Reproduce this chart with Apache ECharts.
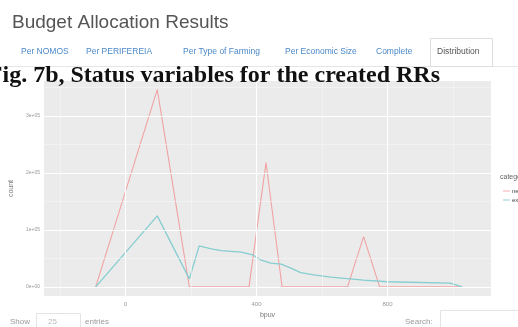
<!DOCTYPE html>
<html>
<head>
<meta charset="utf-8">
<script src="https://cdn.jsdelivr.net/npm/echarts@6/dist/echarts.min.js"></script>
<style>
html,body{margin:0;padding:0;background:#fff;}
#c{width:518px;height:327px;}
</style>
</head>
<body>
<div id="c"></div>
<script>
// ---- data ----
var seriesNames = ['new', 'existing'];
var redX = [-91, 97, 195, 377, 429, 478, 678, 727, 776, 1028];
var redY = [0, 346000, 0, 0, 218000, 0, 0, 88000, 0, 0];
var blueX = [-91, 97, 195, 225, 262, 292, 353, 389, 414, 444, 475, 505, 535, 575, 627, 727, 800, 992, 1028];
var blueY = [0, 124500, 14000, 72000, 66500, 63500, 61000, 56000, 47000, 41500, 40000, 33000, 25000, 21000, 17000, 12000, 9000, 6500, 0];
var xTicks = [0, 400, 800];
var xMinor = [-200, 200, 600, 1000];
var yTicks = [0, 100000, 200000, 300000];
var yTickLabels = ['0e+00', '1e+05', '2e+05', '3e+05'];
var yMinor = [50000, 150000, 250000, 350000];
var tabs = ['Per NOMOS', 'Per PERIFEREIA', 'Per Type of Farming', 'Per Economic Size', 'Complete', 'Distribution'];

function pairs(xs, ys) { return xs.map(function (x, i) { return [x, ys[i]]; }); }

var chart = echarts.init(document.getElementById('c'), null, {renderer: 'canvas'});

var gridMarks = [];
xTicks.forEach(function (v) { gridMarks.push({xAxis: v, lineStyle: {type: 'solid', width: 1.1, color: '#ffffff'}}); });
xMinor.forEach(function (v) { gridMarks.push({xAxis: v, lineStyle: {type: 'solid', width: 0.6, color: '#f6f6f6'}}); });
yTicks.forEach(function (v) { gridMarks.push({yAxis: v, lineStyle: {type: 'solid', width: 1.1, color: '#ffffff'}}); });
yMinor.forEach(function (v) { gridMarks.push({yAxis: v, lineStyle: {type: 'solid', width: 0.6, color: '#f6f6f6'}}); });

var tabX = [21, 86, 183, 285, 376, 437];
var smallFont = '8.5px "Liberation Sans", Arial, sans-serif';

var graphics = [
  {type: 'text', left: 12, top: 13, z: 10, style: {text: 'Budget Allocation Results', font: '19px "Liberation Sans", Arial, sans-serif', fill: '#555'}},
  {type: 'line', shape: {x1: 0, y1: 66.5, x2: 518, y2: 66.5}, style: {stroke: '#e6e6e6', lineWidth: 1}, z: 9},
  {type: 'rect', shape: {x: 430.5, y: 38.5, width: 62, height: 28}, style: {fill: '#fff', stroke: '#dddddd', lineWidth: 1}, z: 10},
  {type: 'text', left: 500, top: 174, z: 10, style: {text: 'category', font: '7px "Liberation Sans", Arial, sans-serif', fill: '#666'}},
  {type: 'text', x: 10, y: 322, z: 10, style: {text: 'Show', font: '8px "Liberation Sans", Arial, sans-serif', fill: '#999', verticalAlign: 'middle'}},
  {type: 'rect', shape: {x: 36.5, y: 313.5, width: 44, height: 18}, style: {fill: '#fff', stroke: '#e4e4e4', lineWidth: 1}, z: 10},
  {type: 'text', x: 48, y: 322, z: 11, style: {text: '25', font: '8px "Liberation Sans", Arial, sans-serif', fill: '#bbb', verticalAlign: 'middle'}},
  {type: 'text', x: 85, y: 322, z: 10, style: {text: 'entries', font: '8px "Liberation Sans", Arial, sans-serif', fill: '#999', verticalAlign: 'middle'}},
  {type: 'text', x: 405, y: 322, z: 10, style: {text: 'Search:', font: '8px "Liberation Sans", Arial, sans-serif', fill: '#999', verticalAlign: 'middle'}},
  {type: 'rect', shape: {x: 440.5, y: 310.5, width: 80, height: 20}, style: {fill: '#fff', stroke: '#e4e4e4', lineWidth: 1}, z: 10},
  {type: 'text', x: 440, y: 76, z: 100, style: {text: 'Fig. 7b, Status variables for the created RRs', font: 'bold 24px "Liberation Serif", "Times New Roman", serif', fill: '#111', align: 'right', verticalAlign: 'middle'}}
];
tabs.forEach(function (t, i) {
  graphics.push({type: 'text', x: tabX[i], y: 52, z: 11, style: {text: t, font: smallFont, fill: i === 5 ? '#555' : '#4a88c7', verticalAlign: 'middle'}});
});

chart.setOption({
  animation: false,
  backgroundColor: '#ffffff',
  grid: {left: 42, right: 27, top: 81, bottom: 31, show: true, backgroundColor: '#ebebeb', borderWidth: 0, containLabel: false},
  legend: {
    orient: 'vertical', left: 498, top: 183, itemGap: 3, itemWidth: 7, itemHeight: 6,
    icon: 'path://M0,3 L8,3 L8,4 L0,4 Z',
    textStyle: {fontSize: 6, color: '#444', fontFamily: 'Liberation Sans', padding: [0, 0, 0, -3]},
    data: seriesNames
  },
  xAxis: {
    type: 'value', min: -249, max: 1116,
    name: 'bpuv', nameLocation: 'middle', nameGap: 14,
    nameTextStyle: {fontSize: 7, color: '#777', fontFamily: 'Liberation Sans'},
    splitLine: {show: false},
    axisLine: {show: false},
    axisTick: {show: true, length: 3, lineStyle: {color: '#aaa'}, customValues: xTicks},
    axisLabel: {fontSize: 6, color: '#999', margin: 5, customValues: xTicks, fontFamily: 'Liberation Sans'}
  },
  yAxis: {
    type: 'value', min: -16000, max: 361000,
    name: 'count', nameLocation: 'middle', nameGap: 20, nameRotate: 90,
    nameTextStyle: {fontSize: 7, color: '#777', fontFamily: 'Liberation Sans'},
    splitLine: {show: false},
    axisLine: {show: false},
    axisTick: {show: true, length: 3, lineStyle: {color: '#aaa'}, customValues: yTicks},
    axisLabel: {fontSize: 5, color: '#999', margin: 4, customValues: yTicks,
      formatter: function (v) { var i = yTicks.indexOf(v); return i >= 0 ? yTickLabels[i] : ''; }, fontFamily: 'Liberation Sans'}
  },
  graphic: graphics,
  series: [
    {
      type: 'line', name: '_grid', data: [], silent: true, z: 0,
      markLine: {silent: true, symbol: 'none', label: {show: false}, animation: false, data: gridMarks}
    },
    {
      type: 'line', name: seriesNames[0], data: pairs(redX, redY), showSymbol: false, symbol: 'none', z: 3,
      lineStyle: {color: '#f1a3a3', width: 1.1}, itemStyle: {color: '#f1a3a3'}
    },
    {
      type: 'line', name: seriesNames[1], data: pairs(blueX, blueY), showSymbol: false, symbol: 'none', z: 4,
      lineStyle: {color: '#86cdd0', width: 1.3}, itemStyle: {color: '#86cdd0'}
    }
  ]
});
</script>
</body>
</html>
